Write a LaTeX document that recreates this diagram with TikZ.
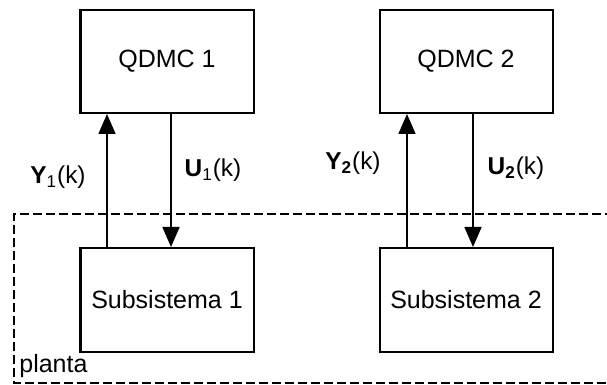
\documentclass[tikz,border=0pt]{standalone}
\usepackage{fontspec}
\setmainfont{Liberation Sans}
\usetikzlibrary{arrows.meta}
\tikzset{
  blockbox/.style={draw, line width=1pt, rectangle, minimum width=86.5pt, inner sep=0pt,
    font=\fontsize{12.5}{15}\selectfont},
  sigarrow/.style={line width=0.8pt, -{Triangle[length=10pt, width=8.5pt]}},
  siglabel/.style={anchor=base, inner sep=0pt, font=\fontsize{12.2}{14}\selectfont},
  plantbox/.style={line width=1.4pt, dash pattern=on 4.5pt off 2pt}
}
\begin{document}
\begin{tikzpicture}[x=0.5pt, y=-0.5pt]
\useasboundingbox (0,0) rectangle (607,385);
\fill[white] (0,0) rectangle (607,385);
% plant (dashed)
\draw[plantbox] (640,214) -- (14,214) -- (14,383) -- (640,383);
\node[anchor=base west, inner sep=0pt, font=\fontsize{12.5}{15}\selectfont] (pl) at (19,373) {planta};
% blocks
\node[blockbox, minimum height=51.5pt] (q1) at (167,61.5) {QDMC 1};
\node[blockbox, minimum height=51.5pt] (q2) at (466,61.5) {QDMC 2};
\node[blockbox, minimum height=52pt] (s1) at (167,300) {Subsistema 1};
\node[blockbox, minimum height=52pt] (s2) at (466,300) {Subsistema 2};
% signals
\draw[sigarrow] ([xshift=-30pt]s1.north) -- ([xshift=-30pt]q1.south);
\draw[sigarrow] ([xshift=2pt]q1.south) -- ([xshift=2pt]s1.north);
\draw[sigarrow] ([xshift=-29.5pt]s2.north) -- ([xshift=-29.5pt]q2.south);
\draw[sigarrow] ([xshift=3.5pt]q2.south) -- ([xshift=3.5pt]s2.north);
% labels
\node[siglabel] (ly1) at (58,184) {\textbf{Y}\textsubscript{1}(k)};
\node[siglabel] (lu1) at (213,177) {\textbf{U}\textsubscript{1}(k)};
\node[siglabel] (ly2) at (353,170) {\textbf{Y\textsubscript{2}}(k)};
\node[siglabel] (lu2) at (516,175) {\textbf{U\textsubscript{2}}(k)};
\end{tikzpicture}
\end{document}
